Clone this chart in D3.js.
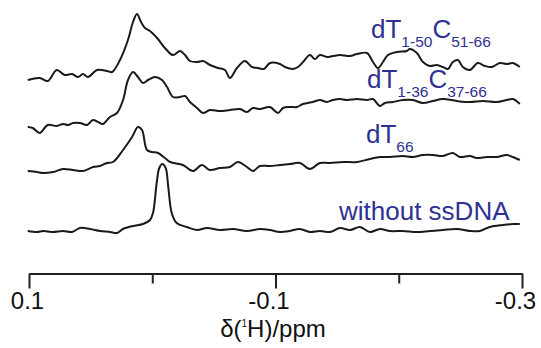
<!DOCTYPE html>
<html>
<head>
<meta charset="utf-8">
<script src="https://cdn.jsdelivr.net/npm/d3@7"></script>
<style>
  body { margin: 0; background: #fff; }
  svg { display: block; }
</style>
</head>
<body>
<div id="chart"></div>
<script>
// 1H spectra, chemical shift (ppm) and intensity (a.u.)
const ppmA = [0.101, 0.0913, 0.0848, 0.0775, 0.0710, 0.0651, 0.0602, 0.0562, 0.0521, 0.0448, 0.0367, 0.0326, 0.0262, 0.0197, 0.0156, 0.0124, 0.0091, 0.0059, 0.0018, -0.0039, -0.0103, -0.0168, -0.0225, -0.0266, -0.0306, -0.0363, -0.0412, -0.0468, -0.0533, -0.0590, -0.0630, -0.0687, -0.0752, -0.0809, -0.0857, -0.0906, -0.0955, -0.1036, -0.1077, -0.1142, -0.1182, -0.1223, -0.1279, -0.1320, -0.1360, -0.1417, -0.1466, -0.1523, -0.1604, -0.1661, -0.1742, -0.1791, -0.1831, -0.1872, -0.1912, -0.1985, -0.2066, -0.2090, -0.2147, -0.2196, -0.2253, -0.2309, -0.2358, -0.2399, -0.2439, -0.2480, -0.2520, -0.2577, -0.2642, -0.2699, -0.2756, -0.2820, -0.2877, -0.2926, -0.2982];
const intA = [1, 3, 0, 11, 6, 7, 4, 7, 4, 11, 10, 9, 21, 41, 59, 67, 59, 53, 50, 43, 33, 26, 30, 26, 20, 19, 20, 16, 13, 11, 3, 13, 20, 14, 13, 12, 18, 17, 14, 12, 14, 19, 26, 22, 26, 24, 25, 26, 25, 27, 28, 19, 13, 19, 26, 29, 30, 32, 28, 19, 15, 16, 14, 12, 19, 21, 14, 11, 18, 15, 14, 18, 17, 18, 14];

const ppmB = [0.101, 0.0970, 0.0913, 0.0848, 0.0775, 0.0724, 0.0683, 0.0643, 0.0586, 0.0529, 0.0480, 0.0424, 0.0399, 0.0343, 0.0286, 0.0237, 0.0197, 0.0156, 0.0116, 0.0075, 0.0034, -0.0022, -0.0079, -0.0120, -0.0168, -0.0225, -0.0266, -0.0306, -0.0363, -0.0412, -0.0468, -0.0549, -0.0630, -0.0712, -0.0768, -0.0817, -0.0874, -0.0955, -0.1020, -0.1061, -0.1117, -0.1174, -0.1223, -0.1304, -0.1360, -0.1417, -0.1466, -0.1523, -0.1580, -0.1661, -0.1742, -0.1791, -0.1847, -0.1888, -0.1953, -0.2034, -0.2115, -0.2196, -0.2277, -0.2358, -0.2472, -0.2577, -0.2682, -0.2796, -0.2877, -0.2926, -0.2982];
const intB = [-1, -2, -7, 1, 0, 2, 1, 3, 3, 1, 6, 3, 2, 9, 13, 26, 46, 54, 49, 43, 46, 49, 46, 39, 29, 29, 30, 24, 18, 13, 16, 15, 16, 17, 14, 18, 17, 19, 13, 18, 19, 19, 22, 24, 26, 24, 26, 27, 26, 27, 26, 27, 20, 23, 24, 26, 26, 23, 25, 27, 25, 24, 25, 24, 26, 27, 22];

const ppmC = [0.101, 0.0935, 0.0886, 0.0805, 0.0724, 0.0643, 0.0562, 0.0480, 0.0424, 0.0367, 0.0318, 0.0237, 0.0164, 0.0116, 0.0083, 0.0043, 0.0002, -0.0047, -0.0103, -0.0144, -0.0249, -0.0330, -0.0403, -0.0468, -0.0549, -0.0630, -0.0695, -0.0768, -0.0817, -0.0874, -0.0955, -0.1036, -0.1117, -0.1198, -0.1279, -0.1360, -0.1442, -0.1547, -0.1661, -0.1766, -0.1847, -0.1928, -0.2034, -0.2115, -0.2196, -0.2277, -0.2358, -0.2439, -0.2496, -0.2577, -0.2633, -0.2715, -0.2796, -0.2877, -0.2926, -0.2982];
const intC = [0, -1, -2, -1, 2, 1, 0, 4, 5, 8, 9, 21, 34, 44, 41, 21, 19, 18, 13, 9, 6, 0, 6, 1, 3, 4, 9, 4, 0, 5, 5, 6, 7, 8, 2, 8, 8, 9, 9, 12, 14, 14, 15, 14, 16, 16, 15, 18, 14, 15, 13, 14, 14, 16, 14, 11];

const ppmD = [0.101, 0.0935, 0.0886, 0.0805, 0.0724, 0.0651, 0.0586, 0.0505, 0.0424, 0.0343, 0.0286, 0.0237, 0.0156, 0.0075, 0.0018, -0.0006, -0.0036, -0.0057, -0.0082, -0.0109, -0.0130, -0.0158, -0.0198, -0.0279, -0.0363, -0.0444, -0.0549, -0.0655, -0.0768, -0.0874, -0.0955, -0.1036, -0.1117, -0.1198, -0.1279, -0.1360, -0.1442, -0.1523, -0.1604, -0.1685, -0.1766, -0.1847, -0.1928, -0.2034, -0.2147, -0.2253, -0.2358, -0.2472, -0.2577, -0.2658, -0.2739, -0.2845, -0.2926, -0.2982];
const intD = [0, -1, 0, -1, 0, -1, 3, 2, 0, -1, -2, 2, 5, 7, 11, 18, 48, 63, 67, 63, 44, 18, 8, 4, 1, 3, 1, 2, 0, 2, 1, -1, 0, 2, -1, 0, -1, 3, 1, 4, -1, 2, 0, 0, -1, 0, 1, 2, 0, 0, 4, 6, 7, 7];

const traceNames = [['dT', '1-50', 'C', '51-66'], ['dT', '1-36', 'C', '37-66'], ['dT', '66'], ['without ssDNA']];
const offsets = [150, 105, 60, 0];

const tickValues = [0.1, 0, -0.1, -0.2, -0.3];
const tickLabels = ['0.1', '', '-0.1', '', '-0.3'];

const traces = [
    { ppm: ppmA, val: intA },
    { ppm: ppmB, val: intB },
    { ppm: ppmC, val: intC },
    { ppm: ppmD, val: intD }
];

const width = 541, height = 348;
const blue = '#2e3192';

const svg = d3.select('#chart')
    .append('svg')
    .attr('width', width)
    .attr('height', height)
    .style('font-family', '"Liberation Sans", Arial, sans-serif');

// ppm axis is reversed (high field on the right)
const x = d3.scaleLinear().domain([0.1, -0.3]).range([29, 522]);
const y = d3.scaleLinear().domain([0, 220]).range([231, 11]);

const line = d3.line()
    .x((d) => x(d[0]))
    .y((d) => y(d[1]))
    .curve(d3.curveCatmullRom.alpha(0.5));

traces.forEach((t, k) => {
    const pts = t.ppm.map((p, i) => [p, t.val[i] + offsets[k]]);
    svg.append('path')
        .datum(pts)
        .attr('fill', 'none')
        .attr('stroke', '#1a1a1a')
        .attr('stroke-width', 2)
        .attr('stroke-linejoin', 'round')
        .attr('d', line);
});

// trace labels (main text + subscripts)
const labelPos = [[371, 38], [367, 88], [366, 143], [339, 220]];
traceNames.forEach((parts, k) => {
    const txt = svg.append('text')
        .attr('x', labelPos[k][0])
        .attr('y', labelPos[k][1])
        .attr('fill', blue)
        .attr('font-size', 26);
    let sub = false;
    parts.forEach((p, i) => {
        const isSub = parts.length > 1 && i % 2 == 1;
        const ts = txt.append('tspan').text(p);
        if (isSub && !sub) ts.attr('dy', 9).attr('font-size', 15.5);
        else if (!isSub && sub) ts.attr('dy', -9).attr('font-size', 26);
        else if (isSub) ts.attr('font-size', 15.5);
        sub = isSub;
    });
});

// x axis
const axis = svg.append('g')
    .attr('transform', 'translate(0,273.5)')
    .call(d3.axisBottom(x)
        .tickValues(tickValues)
        .tickFormat((d, i) => tickLabels[i])
        .tickSize(15)
        .tickSizeOuter(0));
axis.select('.domain').attr('stroke', '#231f20').attr('stroke-width', 2);
axis.selectAll('.tick line')
    .attr('stroke', '#231f20')
    .attr('stroke-width', 2)
    .attr('y2', (d, i) => tickLabels[i] ? 15 : 10);
axis.selectAll('.tick text')
    .attr('fill', '#111')
    .attr('font-size', 24)
    .attr('font-family', '"Liberation Sans", Arial, sans-serif')
    .attr('y', 35.5)
    .attr('dy', 0)
    .attr('dx', (d, i) => i == 0 ? -2 : -7);

const title = svg.append('text')
    .attr('x', 273)
    .attr('y', 337)
    .attr('text-anchor', 'middle')
    .attr('font-size', 24)
    .attr('fill', '#111');
title.append('tspan').text('δ(');
title.append('tspan').text('1').attr('font-size', 10).attr('dy', -10);
title.append('tspan').text('H)/ppm').attr('dy', 10);
</script>
</body>
</html>
